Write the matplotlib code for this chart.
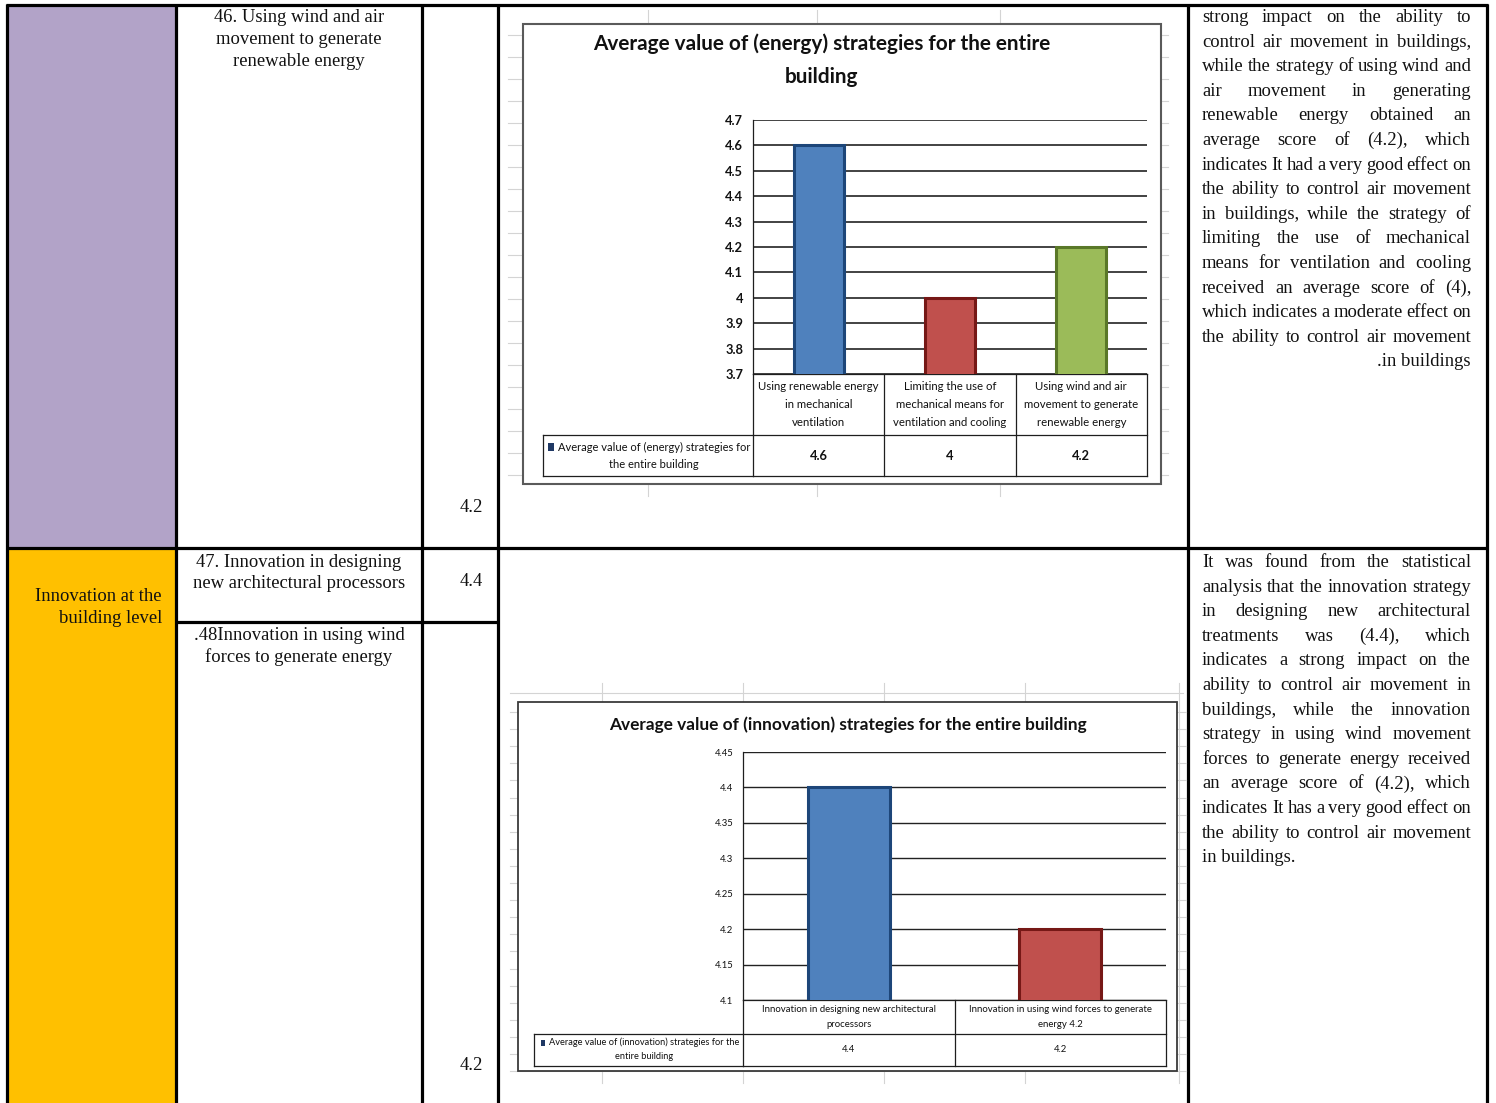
import matplotlib.pyplot as plt
import numpy as np
from matplotlib.patches import Rectangle
from matplotlib.transforms import blended_transform_factory

# Energy strategies chart
energy_title = ["Average value of (energy) strategies for the entire", "building"]
energy_cats = ["Using renewable energy\nin mechanical\nventilation",
               "Limiting the use of\nmechanical means for\nventilation and cooling",
               "Using wind and air\nmovement to generate\nrenewable energy"]
energy_vals = [4.6, 4.0, 4.2]
energy_ticks = [3.7, 3.8, 3.9, 4.0, 4.1, 4.2, 4.3, 4.4, 4.5, 4.6, 4.7]
energy_series = "Average value of (energy) strategies for\nthe entire building"

# Innovation strategies chart
innov_title = "Average value of (innovation) strategies for the entire building"
innov_cats = ["Innovation in designing new architectural\nprocessors",
              "Innovation in using wind forces to generate\nenergy 4.2"]
innov_vals = [4.4, 4.2]
innov_ticks = [4.1, 4.15, 4.2, 4.25, 4.3, 4.35, 4.4, 4.45]
innov_series = "Average value of (innovation) strategies for the\nentire building"

# Table cells
item_46 = ["46. Using wind and air", "movement to generate", "renewable energy"]
item_47 = ["47. Innovation in designing", "new architectural processors"]
item_48 = [".48Innovation in using wind", "forces to generate energy"]
group_label = ["Innovation at the", "building level"]
scores = ["4.2", "4.4", "4.2"]

para_energy = [
    "strong impact on the ability to",
    "control air movement in buildings,",
    "while the strategy of using wind and",
    "air movement in generating",
    "renewable energy obtained an",
    "average score of (4.2), which",
    "indicates It had a very good effect on",
    "the ability to control air movement",
    "in buildings, while the strategy of",
    "limiting the use of mechanical",
    "means for ventilation and cooling",
    "received an average score of (4),",
    "which indicates a moderate effect on",
    "the ability to control air movement",
    ".in buildings",
]
para_innov = [
    "It was found from the statistical",
    "analysis that the innovation strategy",
    "in designing new architectural",
    "treatments was (4.4), which",
    "indicates a strong impact on the",
    "ability to control air movement in",
    "buildings, while the innovation",
    "strategy in using wind movement",
    "forces to generate energy received",
    "an average score of (4.2), which",
    "indicates It has a very good effect on",
    "the ability to control air movement",
    "in buildings.",
]

W, H = 1496, 1103
fig = plt.figure(figsize=(W / 100, H / 100), dpi=100)
page = fig.add_axes([0, 0, 1, 1])
page.set_xlim(0, W)
page.set_ylim(H, 0)
page.axis('off')
renderer = fig.canvas.get_renderer()

serif = dict(family=['Liberation Serif', 'DejaVu Serif'], color='#111111')
sans = ['Lato', 'DejaVu Sans']
sheet = '#d4d4d4'
rule = '#1e1e1e'


def rect(x0, y0, x1, y1):
    return [x0 / W, 1 - y1 / H, (x1 - x0) / W, (y1 - y0) / H]


def text_width(s, size, **kw):
    t = page.text(0, 0, s, fontsize=size, **kw)
    w = t.get_window_extent(renderer).width
    t.remove()
    return w


def fit(s, width, **kw):
    # font size that makes s about `width` pixels wide
    return 10 * width / text_width(s, 10, **kw)


def stack(x, yc, text, dy, **kw):
    rows = text.split('\n') if isinstance(text, str) else text
    y = yc - dy * (len(rows) - 1) / 2
    out = []
    for r in rows:
        out.append(page.text(x, y, r, va='center', **kw))
        y += dy
    return out


body = fit("47. Innovation in designing", 205, **serif)


def justify(lines, x0, x1, y0, dy, last='left'):
    for i, line in enumerate(lines):
        y = y0 + i * dy
        if i == len(lines) - 1:
            page.text(x0 if last == 'left' else x1, y, line, ha=last, va='center', fontsize=body, **serif)
            continue
        words = line.split()
        texts = [page.text(0, y, w, ha='left', va='center', fontsize=body, **serif) for w in words]
        widths = [t.get_window_extent(renderer).width for t in texts]
        gap = (x1 - x0 - sum(widths)) / (len(words) - 1)
        x = x0
        for t, w in zip(texts, widths):
            t.set_x(x)
            x += w + gap


# table body
page.add_patch(Rectangle((7, 5), 169, 543, fc='#b2a3c8', lw=0))
page.add_patch(Rectangle((7, 548), 169, 560, fc='#ffc000', lw=0))
for y, xa, xb in [(5, 6, 1488), (548, 6, 1488), (622, 176, 498)]:
    page.plot([xa, xb], [y, y], color='black', lw=2.3, solid_capstyle='butt')
for x in [7, 176, 422, 498, 1188, 1487]:
    page.plot([x, x], [4, H], color='black', lw=2.3, solid_capstyle='butt')

stack(299, 39.5, item_46, 21.5, ha='center', fontsize=body, **serif)
stack(299, 573, item_47, 21.5, ha='center', fontsize=body, **serif)
stack(299, 646.5, item_48, 21.5, ha='center', fontsize=body, **serif)
stack(162, 607.5, group_label, 22, ha='right', fontsize=body, **serif)
for y, s in zip([507, 581, 1065], scores):
    page.text(483, y, s, ha='right', va='center', fontsize=body, **serif)

justify(para_energy, 1202, 1471, 17.5, 24.6, last='right')
justify(para_innov, 1202, 1471, 562.5, 24.6, last='left')

# spreadsheet grid behind the energy chart
for y in np.arange(35, 496, 22):
    page.plot([508, 1168], [y, y], color=sheet, lw=0.8)
for x in [648, 817, 1000]:
    page.plot([x, x], [10, 496], color=sheet, lw=0.8)
page.add_patch(Rectangle((523, 24), 638, 460, fc='white', ec='#5a5a5a', lw=1.5, zorder=3))

# spreadsheet grid behind the innovation chart
page.plot([510, 1183], [693, 693], color=sheet, lw=0.8)
for y in np.arange(712, 1083, 17.1):
    page.plot([510, 1186], [y, y], color=sheet, lw=0.8)
for x in [602, 743, 884, 1025, 1179]:
    page.plot([x, x], [683, 1083], color=sheet, lw=0.8)
page.add_patch(Rectangle((518, 702), 659, 369, fc='white', ec='#3a3a3a', lw=1.3, zorder=3))

bar_fill = ['#4f81bd', '#c0504d', '#9bbb59']
bar_edge = ['#1d4679', '#761816', '#5a7828']


def chart(box, cats, vals, ticks, width, tick_size, tick_weight, legend_box, rows,
          cat_size, cat_dy, val_size, val_weight, grid_lw):
    ax = fig.add_axes(rect(*box))
    ax.patch.set_visible(False)
    x = np.arange(len(vals))
    ax.bar(x, vals, width=width, color=bar_fill[:len(vals)], edgecolor=bar_edge[:len(vals)],
           linewidth=2.2, zorder=3)
    ax.set_xlim(-0.5, len(vals) - 0.5)
    ax.set_ylim(ticks[0], ticks[-1])
    ax.set_yticks(ticks)
    ax.set_yticklabels([f'{t:g}' for t in ticks], family=sans, fontsize=tick_size,
                       weight=tick_weight, color='#111111')
    ax.tick_params(axis='y', length=0, pad=7)
    ax.set_xticks([])
    ax.yaxis.grid(True, color='#222222', lw=grid_lw)
    ax.set_axisbelow(True)
    for s in ['top', 'right']:
        ax.spines[s].set_visible(False)
    for s in ['left', 'bottom']:
        ax.spines[s].set_color(rule)
        ax.spines[s].set_linewidth(0.9)

    tr = blended_transform_factory(ax.transData, page.transData)
    y_axis, y_mid, y_bot = rows
    lx0, lx1 = legend_box
    edges = np.arange(len(vals) + 1) - 0.5
    for e in edges:
        page.plot([e, e], [y_axis, y_bot], color=rule, lw=0.9, transform=tr, zorder=4)
    for y in [y_mid, y_bot]:
        page.plot([edges[0], edges[-1]], [y, y], color=rule, lw=0.9, transform=tr, zorder=4)
        page.plot([lx0, lx1], [y, y], color=rule, lw=0.9, zorder=4)
    page.plot([lx0, lx0], [y_mid, y_bot], color=rule, lw=0.9, zorder=4)
    for i, (c, v) in enumerate(zip(cats, vals)):
        stack(i, (y_axis + y_mid) / 2, c, cat_dy, ha='center', transform=tr, zorder=5,
              family=sans, fontsize=cat_size, color='#111111')
        page.text(i, (y_mid + y_bot) / 2, f'{v:g}', ha='center', va='center', transform=tr,
                  zorder=5, family=sans, fontsize=val_size, weight=val_weight, color='#111111')
    return ax


def series_key(x, yc, label, dy, size, h):
    rows = stack(x, yc, label, dy, ha='center', fontsize=size, family=sans, zorder=5, color='#111111')
    bb = rows[0].get_window_extent(renderer)
    page.add_patch(Rectangle((bb.x0 - h - 2, yc - dy / 2 - h / 2), h * 0.75, h,
                             fc='#1f3864', lw=0, zorder=5))


s_tick1 = fit("4.7", 18, family=sans, weight='bold')
s_tick2 = fit("4.45", 19, family=sans)
s_cat1 = fit("Using renewable energy", 120, family=sans)
s_cat2 = fit("Innovation in designing new architectural", 174, family=sans)
s_leg1 = fit("Average value of (energy) strategies for", 192, family=sans)
s_leg2 = fit("Average value of (innovation) strategies for the", 192, family=sans)
s_t1 = fit(energy_title[0], 460, family=sans, weight='bold')
s_t2 = fit(innov_title, 478, family=sans, weight='bold')

chart((753, 120, 1147, 374), energy_cats, energy_vals, energy_ticks, 0.38,
      s_tick1, 'bold', (543, 753), (374, 435, 476), s_cat1, 18.5, s_tick1, 'bold', 1.2)
chart((743, 752, 1166, 1000), innov_cats, innov_vals, innov_ticks, 0.39,
      s_tick2, 'normal', (534, 743), (1000, 1034, 1066), s_cat2, 14.5, s_tick2, 'normal', 1.0)

# titles
page.text(822, 44, energy_title[0], ha='center', va='center', fontsize=s_t1, weight='bold',
          family=sans, zorder=5, color='#111111')
page.text(822, 77, energy_title[1], ha='center', va='center', fontsize=s_t1, weight='bold',
          family=sans, zorder=5, color='#111111')
page.text(848, 725, innov_title, ha='center', va='center', fontsize=s_t2, weight='bold',
          family=sans, zorder=5, color='#111111')

# series keys in the data tables
series_key(654, 455.5, energy_series, 17, s_leg1, 8)
series_key(644, 1049.5, innov_series, 14, s_leg2, 6)

fig.savefig('out.png', dpi=100)
